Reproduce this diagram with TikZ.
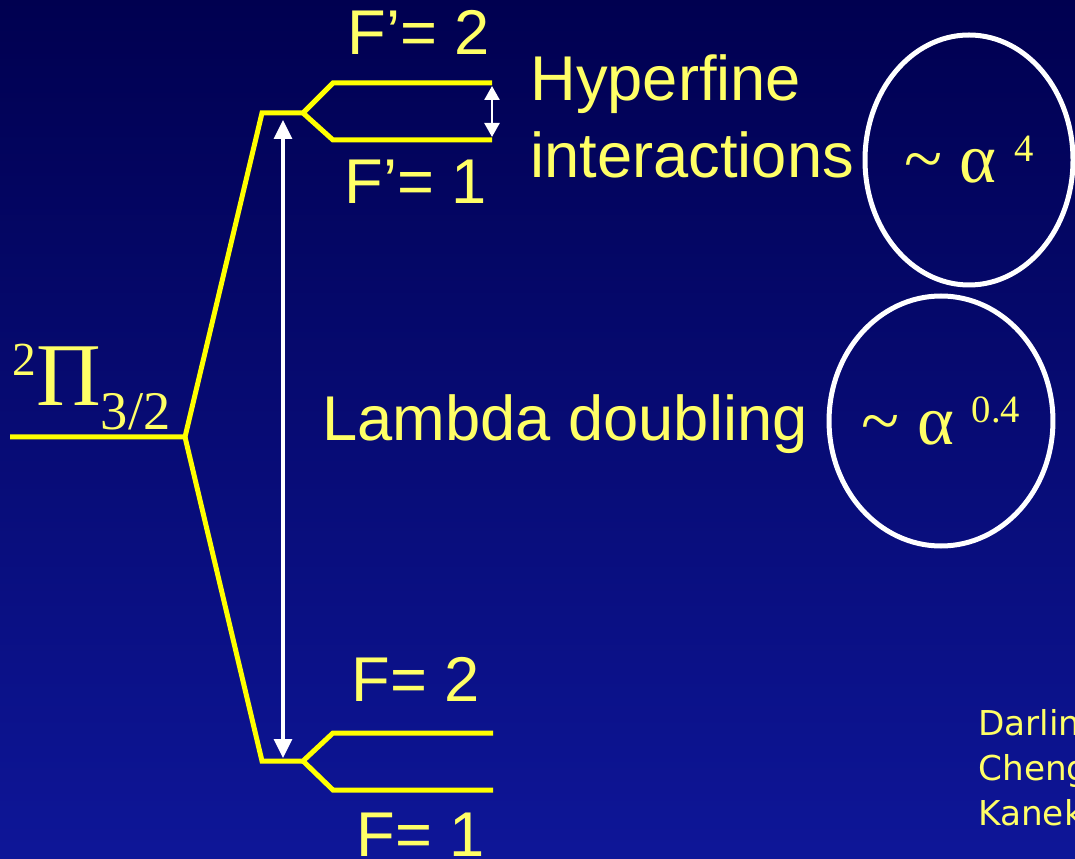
\documentclass[tikz,border=0pt]{standalone}
\usepackage{fontspec}
\setsansfont{Liberation Sans}
\newfontfamily\serifgr{Liberation Serif}
\newfontfamily\notefont{DejaVu Sans}
\usetikzlibrary{arrows.meta,shapes.geometric}

\definecolor{lvlyellow}{RGB}{255,255,0}
\definecolor{txtyellow}{RGB}{255,255,102}
\definecolor{bgtop}{RGB}{0,0,80}
\definecolor{bgbottom}{RGB}{14,22,152}

\begin{document}
\begin{tikzpicture}[
  x=0.2mm, y=-0.2mm,
  level/.style={draw=lvlyellow, line width=1mm, line join=miter},
  lbl/.style={font=\sffamily\fontsize{36}{40}\selectfont, text=txtyellow,
    inner sep=0pt, anchor=base west},
  gap/.style={draw=white, line width=0.65mm,
    {Triangle[length=3.8mm,width=3.6mm]}-{Triangle[length=3.8mm,width=3.6mm]}},
  smallgap/.style={gap, line width=0.5mm,
    {Triangle[length=2.8mm,width=3mm]}-{Triangle[length=2.8mm,width=3mm]}},
  scaling/.style={ellipse, draw=white, line width=1mm, inner sep=0pt,
    text=txtyellow, font=\serifgr\fontsize{40}{42}\selectfont},
  note/.style={font=\notefont\fontsize{19.5}{24}\selectfont, text=txtyellow,
    inner sep=0pt, anchor=base west}
]
  %% background
  \shade[top color=bgtop, bottom color=bgbottom] (0,0) rectangle (1075,859);
  \useasboundingbox (0,0) rectangle (1075,859);

  %% level corners
  \coordinate (g0) at (10,437);
  \coordinate (g1) at (185,437);
  \coordinate (e0) at (262,113);
  \coordinate (e1) at (303,113);
  \coordinate (e2a) at (333,83);  \coordinate (e2b) at (492,83);
  \coordinate (e1a) at (333,140); \coordinate (e1b) at (492,140);
  \coordinate (l0) at (262,761);
  \coordinate (l1) at (303,761);
  \coordinate (l2a) at (333,733); \coordinate (l2b) at (493,733);
  \coordinate (l1a) at (333,790); \coordinate (l1b) at (493,790);

  %% levels
  \draw[level] (g0) -- (g1) -- (e0) -- (e1) -- (e2a) -- (e2b);
  \draw[level] (e1) -- (e1a) -- (e1b);
  \draw[level] (g1) -- (l0) -- (l1) -- (l2a) -- (l2b);
  \draw[level] (l1) -- (l1a) -- (l1b);

  %% splittings
  \coordinate (ld0) at (283,120);
  \coordinate (ld1) at (283,758);
  \coordinate (hf0) at (492,86);
  \coordinate (hf1) at (492,137);
  \draw[gap] (ld0) -- (ld1);
  \draw[smallgap] (hf0) -- (hf1);

  %% labels
  \node[lbl] (fe2) at (347,55) {F’= 2};
  \node[lbl] (fe1) at (344,204) {F’= 1};
  \node[lbl] (fg2) at (351,701) {F= 2};
  \node[lbl] (fg1) at (356,856) {F= 1};
  \node[lbl] (hyp) at (530,101) {Hyperfine};
  \node[lbl] (inter) at (530,178) {interactions};
  \node[lbl] (lam) at (322,441) {Lambda doubling};
  \node[text=txtyellow, inner sep=0pt, anchor=base west,
    font=\serifgr\fontsize{51}{54}\selectfont] (state) at (12,406)
    {\raisebox{17.6pt}{\fontsize{27}{28}\selectfont 2}Π\raisebox{-13.6pt}{\fontsize{31}{32}\selectfont 3/2}};

  %% scaling with alpha
  \node[scaling, minimum width=41.6mm, minimum height=50mm] (hfscale) at (969,160)
    {\textasciitilde{} α \raisebox{12pt}{\fontsize{22}{24}\selectfont 4}};
  \node[scaling, minimum width=43.2mm, minimum height=50mm] (ldscale) at (941,421)
    {\textasciitilde{} α \raisebox{12pt}{\fontsize{22}{24}\selectfont 0.4}};

  %% reference
  \node[note] (ref1) at (978,735) {Darlin};
  \node[note] (ref2) at (978,780) {Cheng};
  \node[note] (ref3) at (978,825) {Kanek};
\end{tikzpicture}
\end{document}
